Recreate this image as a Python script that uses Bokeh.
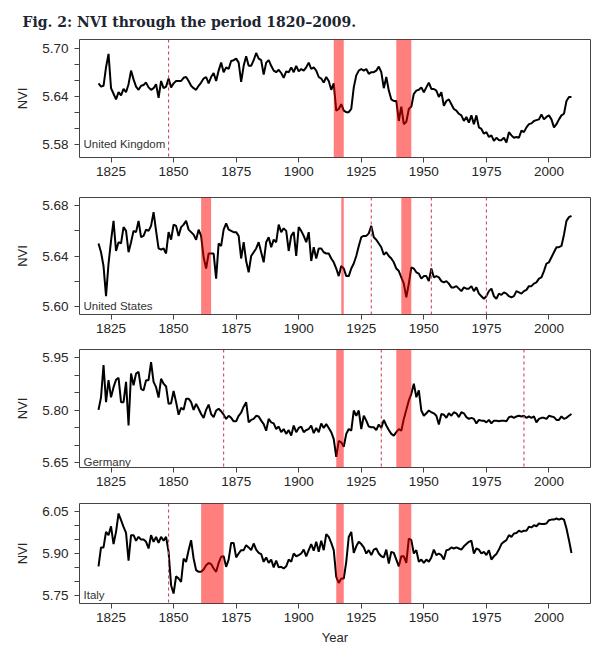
from bokeh.plotting import figure
from bokeh.models import (FixedTicker, BoxAnnotation, Span, Label, Title, Range1d,
                          PrintfTickFormatter)
from bokeh.layouts import column
from bokeh.embed import file_html
from bokeh.resources import INLINE

years = list(range(1820, 2010))

uk_nvi = [
    5.656, 5.652, 5.653, 5.676, 5.693, 5.650, 5.643, 5.636, 5.645, 5.641,
    5.649, 5.645, 5.655, 5.672, 5.661, 5.652, 5.648, 5.653, 5.654, 5.657,
    5.651, 5.648, 5.650, 5.655, 5.638, 5.659, 5.650, 5.652, 5.662, 5.651,
    5.656, 5.659, 5.659, 5.659, 5.663, 5.664, 5.659, 5.653, 5.650, 5.648,
    5.653, 5.657, 5.662, 5.664, 5.656, 5.664, 5.669, 5.659, 5.672, 5.682,
    5.670, 5.676, 5.674, 5.684, 5.685, 5.687, 5.682, 5.658, 5.678, 5.690,
    5.678, 5.678, 5.685, 5.694, 5.687, 5.685, 5.667, 5.682, 5.685, 5.678,
    5.672, 5.670, 5.673, 5.669, 5.663, 5.671, 5.670, 5.676, 5.670, 5.678,
    5.671, 5.674, 5.672, 5.676, 5.682, 5.674, 5.676, 5.672, 5.664, 5.662,
    5.657, 5.664, 5.659, 5.648, 5.656, 5.622, 5.624, 5.630, 5.622, 5.620,
    5.620, 5.624, 5.651, 5.666, 5.672, 5.674, 5.672, 5.674, 5.668, 5.670,
    5.670, 5.672, 5.677, 5.670, 5.650, 5.664, 5.647, 5.636, 5.634, 5.634,
    5.609, 5.627, 5.605, 5.608, 5.624, 5.627, 5.643, 5.647, 5.648, 5.651,
    5.645, 5.651, 5.657, 5.649, 5.649, 5.647, 5.639, 5.645, 5.628, 5.634,
    5.636, 5.630, 5.624, 5.622, 5.618, 5.616, 5.609, 5.614, 5.607, 5.616,
    5.605, 5.616, 5.601, 5.599, 5.593, 5.595, 5.589, 5.591, 5.584, 5.588,
    5.585, 5.585, 5.588, 5.582, 5.595, 5.591, 5.588, 5.589, 5.588, 5.597,
    5.595, 5.601, 5.605, 5.606, 5.609, 5.610, 5.611, 5.617, 5.611, 5.614,
    5.616, 5.611, 5.601, 5.605, 5.611, 5.616, 5.618, 5.634, 5.639, 5.639,
]

us_nvi = [
    5.650, 5.643, 5.632, 5.608, 5.634, 5.652, 5.668, 5.644, 5.651, 5.650,
    5.663, 5.660, 5.643, 5.651, 5.660, 5.659, 5.668, 5.655, 5.656, 5.661,
    5.660, 5.664, 5.675, 5.660, 5.646, 5.645, 5.646, 5.642, 5.659, 5.653,
    5.665, 5.664, 5.656, 5.663, 5.665, 5.668, 5.661, 5.659, 5.657, 5.653,
    5.661, 5.656, 5.639, 5.630, 5.642, 5.642, 5.642, 5.622, 5.650, 5.648,
    5.661, 5.666, 5.661, 5.660, 5.659, 5.659, 5.656, 5.638, 5.651, 5.636,
    5.627, 5.640, 5.643, 5.646, 5.651, 5.643, 5.635, 5.651, 5.655, 5.647,
    5.653, 5.651, 5.665, 5.659, 5.662, 5.660, 5.644, 5.656, 5.659, 5.640,
    5.663, 5.660, 5.656, 5.651, 5.659, 5.636, 5.647, 5.638, 5.646, 5.646,
    5.643, 5.642, 5.642, 5.638, 5.635, 5.630, 5.624, 5.632, 5.630, 5.624,
    5.624, 5.630, 5.634, 5.640, 5.648, 5.655, 5.656, 5.656, 5.658, 5.664,
    5.655, 5.653, 5.650, 5.647, 5.641, 5.643, 5.640, 5.638, 5.635, 5.630,
    5.628, 5.623, 5.618, 5.607, 5.618, 5.631, 5.630, 5.627, 5.626, 5.622,
    5.624, 5.624, 5.620, 5.630, 5.623, 5.624, 5.623, 5.620, 5.619, 5.620,
    5.618, 5.615, 5.615, 5.616, 5.614, 5.612, 5.615, 5.614, 5.614, 5.616,
    5.612, 5.615, 5.610, 5.608, 5.606, 5.608, 5.612, 5.614, 5.608, 5.606,
    5.610, 5.609, 5.611, 5.610, 5.608, 5.607, 5.608, 5.612, 5.611, 5.610,
    5.612, 5.613, 5.616, 5.616, 5.618, 5.619, 5.622, 5.623, 5.628, 5.634,
    5.635, 5.639, 5.643, 5.647, 5.647, 5.648, 5.657, 5.668, 5.671, 5.672,
]

de_nvi = [
    5.801, 5.837, 5.929, 5.823, 5.886, 5.837, 5.866, 5.887, 5.893, 5.823,
    5.823, 5.881, 5.756, 5.905, 5.871, 5.905, 5.910, 5.861, 5.857, 5.886,
    5.886, 5.938, 5.881, 5.866, 5.836, 5.890, 5.876, 5.868, 5.818, 5.820,
    5.855, 5.823, 5.787, 5.807, 5.801, 5.833, 5.833, 5.823, 5.801, 5.818,
    5.804, 5.789, 5.778, 5.801, 5.816, 5.789, 5.780, 5.799, 5.804, 5.797,
    5.787, 5.775, 5.784, 5.778, 5.768, 5.768, 5.784, 5.793, 5.810, 5.823,
    5.765, 5.772, 5.775, 5.784, 5.782, 5.770, 5.760, 5.741, 5.775, 5.765,
    5.762, 5.746, 5.753, 5.737, 5.746, 5.732, 5.743, 5.727, 5.756, 5.737,
    5.749, 5.753, 5.737, 5.743, 5.746, 5.756, 5.734, 5.749, 5.737, 5.762,
    5.749, 5.760, 5.749, 5.737, 5.717, 5.666, 5.712, 5.708, 5.695, 5.732,
    5.746, 5.741, 5.799, 5.784, 5.799, 5.746, 5.784, 5.770, 5.753, 5.751,
    5.751, 5.743, 5.759, 5.749, 5.772, 5.756, 5.743, 5.732, 5.727, 5.737,
    5.746, 5.741, 5.775, 5.801, 5.828, 5.847, 5.876, 5.837, 5.857, 5.799,
    5.784, 5.791, 5.799, 5.794, 5.791, 5.784, 5.759, 5.789, 5.787, 5.778,
    5.791, 5.784, 5.794, 5.791, 5.780, 5.794, 5.791, 5.780, 5.775, 5.778,
    5.775, 5.762, 5.772, 5.770, 5.770, 5.765, 5.772, 5.762, 5.770, 5.770,
    5.768, 5.770, 5.770, 5.768, 5.780, 5.782, 5.778, 5.782, 5.784, 5.782,
    5.784, 5.778, 5.782, 5.778, 5.782, 5.765, 5.775, 5.778, 5.778, 5.775,
    5.784, 5.782, 5.780, 5.772, 5.772, 5.782, 5.775, 5.778, 5.784, 5.789,
]

it_nvi = [
    5.854, 5.922, 5.922, 5.978, 5.966, 5.998, 5.934, 5.978, 6.044, 6.020,
    5.996, 5.974, 5.874, 5.966, 5.966, 5.946, 5.960, 5.950, 5.950, 5.942,
    5.918, 5.966, 5.942, 5.960, 5.938, 5.960, 5.946, 5.960, 5.906, 5.786,
    5.756, 5.818, 5.810, 5.798, 5.882, 5.870, 5.912, 5.948, 5.882, 5.840,
    5.834, 5.834, 5.842, 5.858, 5.866, 5.862, 5.846, 5.834, 5.866, 5.888,
    5.890, 5.852, 5.878, 5.938, 5.938, 5.886, 5.900, 5.912, 5.912, 5.930,
    5.922, 5.912, 5.936, 5.914, 5.902, 5.898, 5.870, 5.886, 5.866, 5.878,
    5.850, 5.874, 5.850, 5.852, 5.846, 5.854, 5.878, 5.870, 5.900, 5.890,
    5.894, 5.900, 5.914, 5.890, 5.912, 5.934, 5.910, 5.942, 5.906, 5.946,
    5.912, 5.970, 5.960, 5.938, 5.912, 5.816, 5.794, 5.810, 5.810, 5.870,
    5.960, 5.978, 5.902, 5.926, 5.942, 5.934, 5.922, 5.900, 5.912, 5.894,
    5.914, 5.918, 5.900, 5.890, 5.886, 5.914, 5.864, 5.906, 5.902, 5.878,
    5.854, 5.890, 5.890, 5.866, 5.954, 5.948, 5.900, 5.912, 5.870, 5.878,
    5.866, 5.878, 5.870, 5.886, 5.914, 5.894, 5.900, 5.894, 5.878, 5.912,
    5.914, 5.922, 5.918, 5.922, 5.918, 5.914, 5.926, 5.934, 5.942, 5.946,
    5.900, 5.918, 5.914, 5.900, 5.906, 5.894, 5.912, 5.878, 5.890, 5.898,
    5.914, 5.934, 5.942, 5.948, 5.966, 5.960, 5.972, 5.974, 5.982, 5.978,
    5.982, 5.982, 5.996, 5.994, 6.002, 5.998, 6.008, 6.006, 6.006, 6.008,
    6.020, 6.022, 6.022, 6.026, 6.022, 6.026, 6.022, 5.990, 5.948, 5.902,
]

x_ticks = [1825, 1850, 1875, 1900, 1925, 1950, 1975, 2000]

country_names = ["United Kingdom", "United States", "Germany", "Italy"]
series = [uk_nvi, us_nvi, de_nvi, it_nvi]

y_limits = [(5.5633, 5.7109), (5.5934, 5.6866), (5.6356, 5.974), (5.720, 6.080)]
y_labeled_ticks = [[5.58, 5.64, 5.70], [5.60, 5.64, 5.68], [5.65, 5.80, 5.95], [5.75, 5.90, 6.05]]
y_minor_ticks = [[5.60, 5.62, 5.66, 5.68], [5.62, 5.66], [5.70, 5.75, 5.85, 5.90], [5.80, 5.85, 5.95, 6.00]]

shade_start = [[1914, 1939], [1861, 1917, 1941], [1915, 1939], [1861, 1915, 1940]]
shade_end = [[1918, 1945], [1865, 1918, 1945], [1918, 1945], [1870, 1918, 1945]]
dashed_years = [[1848], [1929, 1953, 1975], [1870, 1933, 1990], [1848]]

x_range_limits = (1812.4, 2016.6)

# layout: (figure height, top border, bottom border)
layout_spec = [(186, 39, 29), (154, 11, 26), (156, 9, 29), (163, 7, 56)]

TXT = "#262626"
AX = "#444444"
FONT = "Liberation Sans"

figs = []
for i in range(4):
    h, bt, bb = layout_spec[i]
    p = figure(width=600, height=h, output_backend="svg", toolbar_location=None,
               x_range=Range1d(*x_range_limits), y_range=Range1d(*y_limits[i]),
               min_border_left=79, min_border_right=10, min_border_top=bt,
               min_border_bottom=bb, background_fill_color="white",
               border_fill_color="white")
    p.grid.visible = False
    p.outline_line_color = AX
    p.outline_line_width = 1

    p.line(years, series[i], line_color="black", line_width=2)

    for s, e in zip(shade_start[i], shade_end[i]):
        p.add_layout(BoxAnnotation(left=s, right=e, fill_color="red", fill_alpha=0.5,
                                   line_color=None, level="annotation"))
    for yr in dashed_years[i]:
        p.add_layout(Span(location=yr, dimension="height", line_color="#D04458",
                          line_width=1.1, line_dash="3 3"))

    p.xaxis.ticker = FixedTicker(ticks=x_ticks, minor_ticks=[])
    p.yaxis.ticker = FixedTicker(ticks=y_labeled_ticks[i], minor_ticks=y_minor_ticks[i])
    p.yaxis.formatter = PrintfTickFormatter(format="%.2f")
    for ax in (p.xaxis[0], p.yaxis[0]):
        ax.axis_line_color = None
        ax.major_tick_line_color = AX
        ax.minor_tick_line_color = AX
        ax.major_tick_out = 5
        ax.major_tick_in = 0
        ax.minor_tick_out = 5
        ax.minor_tick_in = 0
        ax.major_label_text_font = FONT
        ax.major_label_text_font_size = "13.5px"
        ax.major_label_text_color = TXT
        ax.axis_label_text_font = FONT
        ax.axis_label_text_font_size = "13px"
        ax.axis_label_text_font_style = "normal"
        ax.axis_label_text_color = TXT
    p.xaxis.major_label_standoff = 4
    p.yaxis.major_label_standoff = 6
    p.yaxis.axis_label = "NVI"
    p.yaxis.axis_label_standoff = 9
    if i == 3:
        p.xaxis.axis_label = "Year"
        p.xaxis.axis_label_standoff = 5

    p.add_layout(Label(x=x_range_limits[0] + 1.6, y=y_labeled_ticks[i][0],
                       text=country_names[i], text_font=FONT, text_font_size="11.5px",
                       text_color="#333333", text_baseline="middle", text_align="left"))

    if i == 0:
        p.add_layout(Title(text="Fig. 2: NVI through the period 1820\u20132009.",
                           align="left", offset=-57, standoff=20,
                           text_font="DejaVu Serif", text_font_style="bold",
                           text_font_size="14px", text_color="#1d2531"), "above")
    figs.append(p)

layout = column(*figs, spacing=0)
open("out.html", "w").write(file_html(layout, INLINE))
